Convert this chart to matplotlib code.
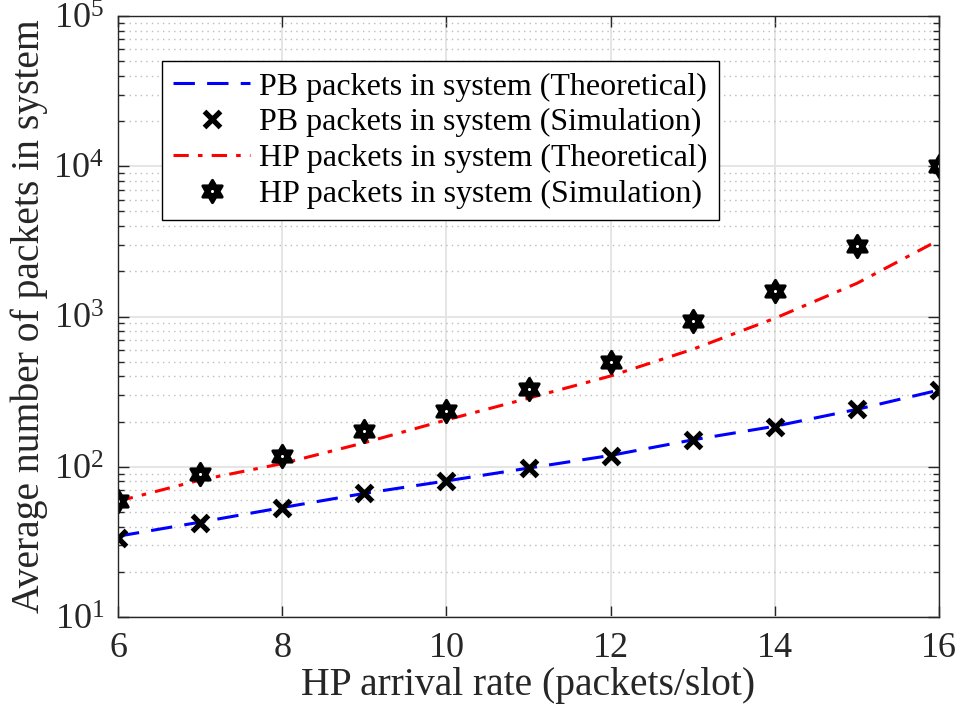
import matplotlib
matplotlib.use("Agg")
import matplotlib.pyplot as plt
import numpy as np
from matplotlib.path import Path
from matplotlib.ticker import LogLocator, NullFormatter

plt.rcParams['font.family'] = ['Liberation Serif', 'DejaVu Serif']
plt.rcParams['mathtext.fontset'] = 'stix'

# Data
rate = [6, 7, 8, 9, 10, 11, 12, 13, 14, 15, 16]
pb_theory = [34.5, 42.8, 53.5, 66.5, 80.5, 98, 119, 151, 186, 241, 324]
pb_sim = [33.4, 42.4, 52.9, 66.6, 80.4, 97.7, 118, 150.7, 185, 241, 324]
hp_theory = [59, 81.6, 105, 144.5, 205, 286, 402, 605, 973, 1663, 3228]
hp_sim = [59.4, 89.5, 118, 174, 235, 327, 496, 933, 1485, 2945, 10000]

# hexagram marker (six-point star, point up)
ang = np.pi / 2 + np.arange(12) * np.pi / 6
rad = np.where(np.arange(12) % 2 == 0, 1.0, 1 / np.sqrt(3))
verts = np.column_stack([rad * np.cos(ang), rad * np.sin(ang)])
verts = np.vstack([verts, verts[:1]])
hexagram = Path(verts, closed=True)

fig = plt.figure(figsize=(9.61, 7.21), dpi=100)
ax = fig.add_axes([0.1228, 0.1442, 0.8543, 0.8336])

l1, = ax.semilogy(rate, pb_theory, color=(0, 0, 1), lw=2.2, dashes=(7, 4))
l2, = ax.semilogy(rate, pb_sim, ls='none', marker='x', ms=11, mew=3.8, color='k')
l3, = ax.semilogy(rate, hp_theory, color=(1, 0, 0), lw=2.2, dashes=(5, 3, 1.5, 3))
l4, = ax.semilogy(rate, hp_sim, ls='none', marker=hexagram, ms=16, mew=2.2,
                  mfc='k', mec='k')
l5, = ax.semilogy(rate, hp_sim, ls='none', marker='o', ms=2.2, mew=0,
                  mfc='white')

ax.set_xlim(6, 16)
ax.set_ylim(10, 1e5)
ax.set_xticks([6, 8, 10, 12, 14, 16])
ax.yaxis.set_major_locator(LogLocator(base=10, numticks=10))
ax.yaxis.set_minor_locator(LogLocator(base=10, subs=np.arange(2, 10), numticks=10))
ax.yaxis.set_minor_formatter(NullFormatter())

ax.grid(True, which='major', color='#e3e3e3', lw=1.3, ls='-')
ax.grid(True, which='minor', axis='y', color='#bcbcbc', lw=1, ls=(0, (1, 3)))
ax.set_axisbelow(True)

ax.tick_params(which='both', direction='in', top=True, right=True,
               labelsize=26, colors='#262626', width=1)
ax.tick_params(which='major', length=8)
ax.tick_params(axis='x', which='major', pad=11)
ax.tick_params(axis='y', which='major', pad=10)
ax.tick_params(which='minor', length=4)
for s in ax.spines.values():
    s.set_color('#262626')
    s.set_linewidth(1)

ax.set_xlabel('HP arrival rate (packets/slot)', fontsize=28.5, color='#262626')
ax.set_ylabel('Average number of packets in system', fontsize=28.5,
              color='#262626')
ax.xaxis.set_label_coords(0.5, -0.083)
ax.yaxis.set_label_coords(-0.085, 0.5)

labels = ['PB packets in system (Theoretical)',
          'PB packets in system (Simulation)',
          'HP packets in system (Theoretical)',
          'HP packets in system (Simulation)']
leg = ax.legend([l1, l2, l3, (l4, l5)], labels, loc='upper left',
                bbox_to_anchor=(0.0536, 0.925), fontsize=23,
                fancybox=False, framealpha=1, edgecolor='k', borderpad=0.35,
                labelspacing=0.2, handlelength=2.4, handletextpad=0.3,
                borderaxespad=0)
leg.get_frame().set_linewidth(1)

fig.savefig('out.png', dpi=100)
